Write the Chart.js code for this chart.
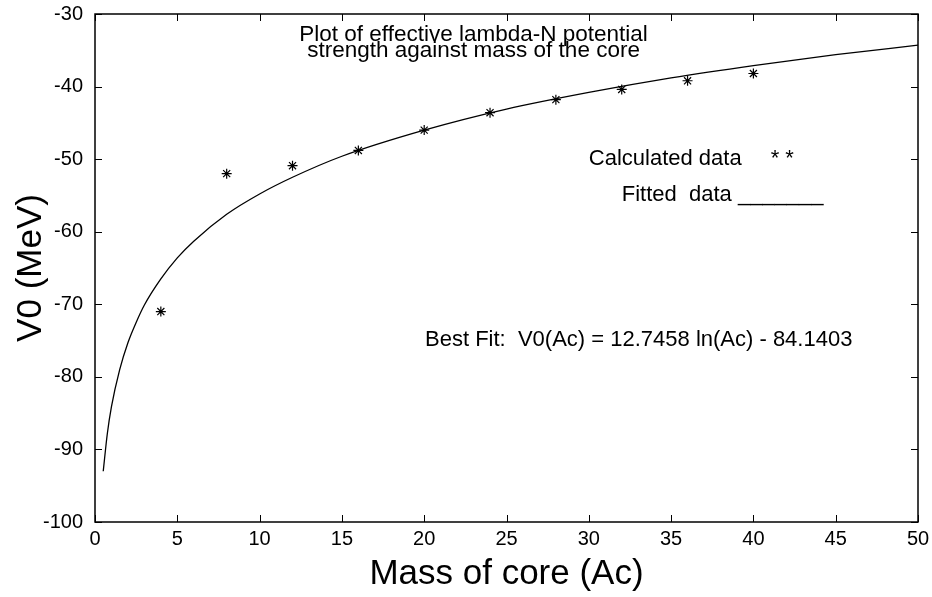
<!DOCTYPE html>
<html>
<head>
<meta charset="utf-8">
<script src="https://cdn.jsdelivr.net/npm/chart.js@4.4.1/dist/chart.umd.min.js"></script>
<style>
  html, body { margin: 0; padding: 0; background: #fff; }
  canvas { display: block; }
</style>
</head>
<body>
<canvas id="chart" width="932" height="597"></canvas>
<script>
// calculated points (mass of core vs V0)
const massCalc = [4, 8, 12, 16, 20, 24, 28, 32, 36, 40];
const v0Calc = [-71.0, -52.0, -50.9, -48.8, -46.0, -43.6, -41.8, -40.4, -39.2, -38.2];

// fitted curve
const massFit = [0.5, 0.75, 1, 1.5, 2, 2.5, 3, 4, 5, 6, 8, 10, 12, 15, 20, 25, 30, 35, 40, 45, 50];
const v0Fit = [-93.0, -87.8, -84.1, -79.0, -75.3, -72.5, -70.1, -66.5, -63.6, -61.3, -57.6, -54.8, -52.5, -49.6, -46.0, -43.1, -40.8, -38.8, -37.1, -35.6, -34.3];

const xTicks = [0, 5, 10, 15, 20, 25, 30, 35, 40, 45, 50];
const yTicks = [-100, -90, -80, -70, -60, -50, -40, -30];

const FONT = '"Liberation Sans", Arial, Helvetica, sans-serif';
Chart.defaults.color = "#000";
Chart.defaults.font.family = FONT;

// frame, inward ticks and the text notes
const decor = {
  id: "decor",
  afterDraw(chart) {
    const ctx = chart.ctx;
    const { left, right, top, bottom } = chart.chartArea;
    const xs = chart.scales.x;
    const ys = chart.scales.y;
    ctx.save();
    ctx.strokeStyle = "#000";
    ctx.lineWidth = 1.5;
    ctx.strokeRect(left, top, right - left, bottom - top);

    ctx.lineWidth = 1;
    ctx.beginPath();
    xTicks.forEach((v) => {
      const px = Math.round(xs.getPixelForValue(v)) + 0.5;
      ctx.moveTo(px, bottom); ctx.lineTo(px, bottom - 7);
      ctx.moveTo(px, top); ctx.lineTo(px, top + 7);
    });
    yTicks.forEach((v) => {
      const py = Math.round(ys.getPixelForValue(v)) + 0.5;
      ctx.moveTo(left, py); ctx.lineTo(left + 7, py);
      ctx.moveTo(right, py); ctx.lineTo(right - 7, py);
    });
    ctx.stroke();

    ctx.fillStyle = "#000";
    ctx.textBaseline = "alphabetic";
    ctx.font = "22.5px " + FONT;
    ctx.textAlign = "center";
    ctx.fillText("Plot of effective lambda-N potential", xs.getPixelForValue(23), ys.getPixelForValue(-33.7));
    ctx.fillText("strength against mass of the core", xs.getPixelForValue(23), ys.getPixelForValue(-35.9));

    ctx.font = "22px " + FONT;
    ctx.textAlign = "left";
    ctx.fillText("Calculated data", xs.getPixelForValue(30), ys.getPixelForValue(-50.8));
    ctx.fillText("* *", xs.getPixelForValue(41.05), ys.getPixelForValue(-50.8));
    ctx.fillText("Fitted  data _______", xs.getPixelForValue(32), ys.getPixelForValue(-55.8));
    ctx.fillText("Best Fit:  V0(Ac) = 12.7458 ln(Ac) - 84.1403", xs.getPixelForValue(20.05), ys.getPixelForValue(-75.8));
    ctx.restore();
  }
};

new Chart(document.getElementById("chart"), {
  type: "scatter",
  data: {
    datasets: [
      {
        label: "Fitted data",
        data: massFit.map((m, i) => ({ x: m, y: v0Fit[i] })),
        showLine: true,
        borderColor: "#000",
        borderWidth: 1.3,
        pointRadius: 0,
        cubicInterpolationMode: "monotone",
        fill: false,
      },
      {
        label: "Calculated data",
        data: massCalc.map((m, i) => ({ x: m, y: v0Calc[i] })),
        pointStyle: "star",
        pointRadius: 5,
        borderColor: "#000",
        backgroundColor: "#000",
        borderWidth: 1.2,
      },
    ],
  },
  options: {
    responsive: false,
    devicePixelRatio: 1,
    animation: false,
    layout: { padding: { top: 14, right: 14, left: 0, bottom: 0 } },
    plugins: {
      legend: { display: false },
      tooltip: { enabled: false },
    },
    scales: {
      x: {
        type: "linear",
        min: 0,
        max: 50,
        afterFit: (scale) => {
          scale.height = 75;
          scale.paddingLeft = 0;
          scale.paddingRight = 0;
        },
        afterBuildTicks: (scale) => { scale.ticks = xTicks.map((v) => ({ value: v })); },
        grid: { display: false, drawTicks: false },
        border: { display: false },
        ticks: { padding: 5, font: { size: 20 }, maxRotation: 0 },
        title: {
          display: true,
          text: "Mass of core (Ac)",
          font: { size: 35 },
          padding: { top: 0, bottom: 2 },
        },
      },
      y: {
        type: "linear",
        min: -100,
        max: -30,
        afterFit: (scale) => {
          scale.width = 95;
          scale.paddingTop = 0;
          scale.paddingBottom = 0;
        },
        afterBuildTicks: (scale) => { scale.ticks = yTicks.map((v) => ({ value: v })); },
        grid: { display: false, drawTicks: false },
        border: { display: false },
        ticks: { padding: 12, font: { size: 20 } },
        title: {
          display: true,
          text: "V0 (MeV)",
          font: { size: 35 },
          padding: { top: 10, bottom: 0 },
        },
      },
    },
  },
  plugins: [decor],
});
</script>
</body>
</html>
